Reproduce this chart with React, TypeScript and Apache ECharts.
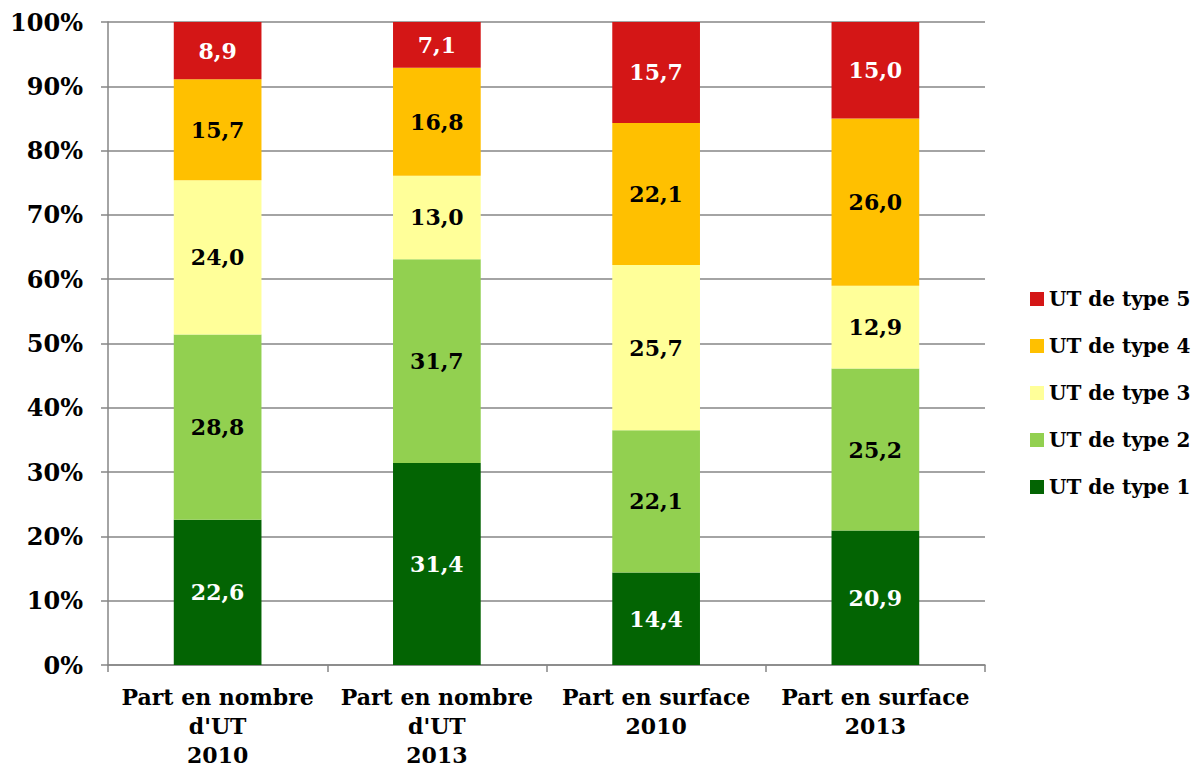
import React, { useEffect, useRef } from "react";
import * as echarts from "echarts";

const categories = [
  "Part en nombre\nd'UT\n2010",
  "Part en nombre\nd'UT\n2013",
  "Part en surface\n2010",
  "Part en surface\n2013",
];
const seriesNames = ["UT de type 1", "UT de type 2", "UT de type 3", "UT de type 4", "UT de type 5"];
const type1 = [22.6, 31.4, 14.4, 20.9];
const type2 = [28.8, 31.7, 22.1, 25.2];
const type3 = [24.0, 13.0, 25.7, 12.9];
const type4 = [15.7, 16.8, 22.1, 26.0];
const type5 = [8.9, 7.1, 15.7, 15.0];
const values = [type1, type2, type3, type4, type5];
const colors = ["#036403", "#92D050", "#FFFF99", "#FFC000", "#D41616"];
const labelColors = ["#FFFFFF", "#000000", "#000000", "#000000", "#FFFFFF"];
const yTicks = { min: 0, max: 100, interval: 10 };

const FONT = "'DejaVu Serif', serif";

export default function App() {
  const ref = useRef<HTMLDivElement>(null);
  useEffect(() => {
    const chart = echarts.init(ref.current!, null, { renderer: "svg" });
    chart.setOption({
      animation: false,
      textStyle: { fontFamily: FONT },
      grid: {
        left: 108,
        right: 215,
        top: 22,
        bottom: 106,
        containLabel: false,
        outerBoundsMode: "none",
      },
      legend: {
        data: [...seriesNames].reverse(),
        orient: "vertical",
        left: 1025,
        top: 284,
        itemWidth: 14,
        itemHeight: 14,
        itemGap: 27,
        icon: "rect",
        textStyle: { fontFamily: FONT, fontWeight: "bold", fontSize: 20, color: "#000" },
      },
      xAxis: {
        type: "category",
        data: categories,
        axisLine: { lineStyle: { color: "#868686", width: 1.5 } },
        axisTick: { show: true, length: 7, lineStyle: { color: "#868686", width: 1.5 } },
        axisLabel: {
          fontFamily: FONT,
          fontWeight: "bold",
          fontSize: 22,
          color: "#000",
          lineHeight: 29,
          margin: 17,
          interval: 0,
        },
      },
      yAxis: {
        type: "value",
        min: yTicks.min,
        max: yTicks.max,
        interval: yTicks.interval,
        axisLine: { show: true, lineStyle: { color: "#868686", width: 1.5 } },
        axisTick: { show: true, length: 7, lineStyle: { color: "#868686", width: 1.5 } },
        splitLine: { lineStyle: { color: "#868686", width: 1.5 } },
        axisLabel: {
          formatter: "{value}%",
          fontFamily: FONT,
          fontWeight: "bold",
          fontSize: 24,
          color: "#000",
          margin: 25,
        },
      },
      series: seriesNames.map((name, i) => ({
        name,
        type: "bar",
        stack: "total",
        barWidth: "40%",
        data: values[i],
        itemStyle: { color: colors[i] },
        label: {
          show: true,
          position: "inside",
          formatter: (p: any) => Number(p.value).toFixed(1).replace(".", ","),
          fontFamily: FONT,
          fontWeight: "bold",
          fontSize: 22,
          color: labelColors[i],
        },
      })),
    });
    return () => chart.dispose();
  }, []);
  return (
    <div style={{ position: "absolute", left: 0, top: 0, width: 1200, height: 771, overflow: "hidden" }}>
      <div ref={ref} style={{ width: 1200, height: 771 }} />
    </div>
  );
}
